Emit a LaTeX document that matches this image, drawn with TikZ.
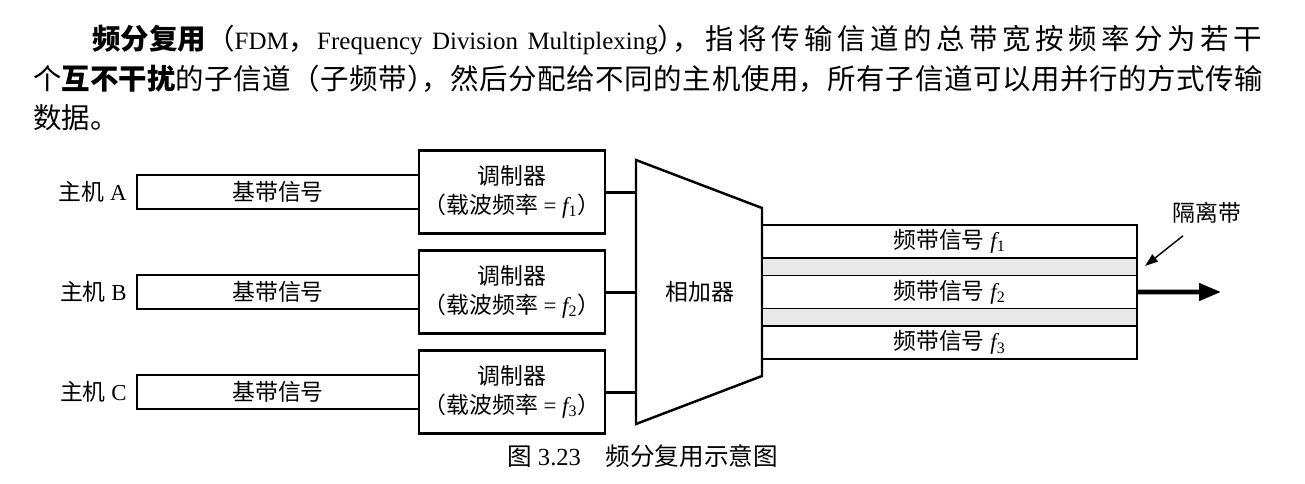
\documentclass[tikz,border=0pt]{standalone}
\usepackage{fontspec}
\setmainfont{Liberation Serif}
\newfontfamily\zhfont{Noto Sans CJK SC}
\usetikzlibrary{
    arrows.meta,
    positioning
}

\definecolor{gapgray}{HTML}{E8E8E8}

\newcommand{\hanzi}[1]{{\zhfont #1}}
\newcommand{\hanzib}[1]{{\zhfont\bfseries #1}}
\newcommand{\bodysize}{\fontsize{16.2pt}{20pt}\selectfont}
\newcommand{\latinsize}{\fontsize{14.2pt}{20pt}\selectfont}
\newcommand{\figsize}{\fontsize{13pt}{16.5pt}\selectfont}
\newcommand{\capsize}{\fontsize{14pt}{17pt}\selectfont}
\newcommand{\freq}[1]{{\itshape f}\textsubscript{#1}}
\newcommand{\fullline}{\XeTeXlinebreaklocale "en"\relax\parfillskip=0pt\noindent}
\newcommand{\spreadon}{\XeTeXlinebreaklocale "zh"\relax\XeTeXlinebreakskip=0pt plus 1fil\relax}

\tikzset{
    textline/.style={anchor=west, inner sep=0pt, font=\bodysize},
    bbbox/.style={draw, line width=1.4pt, minimum width=5.64cm, minimum height=0.68cm,
        inner sep=0pt, outer sep=0pt, font=\figsize},
    modbox/.style={draw, line width=1.4pt, minimum width=3.72cm, minimum height=1.66cm,
        inner sep=0pt, outer sep=0pt, align=center, font=\figsize},
    band/.style={draw, line width=1.1pt, minimum width=7.5cm, minimum height=0.66cm,
        inner sep=0pt, outer sep=0pt, font=\figsize},
    gapband/.style={band, fill=gapgray, minimum height=0.35cm},
    link/.style={line width=1.7pt}
}

\begin{document}
\begin{tikzpicture}[scale=1]

\useasboundingbox (0,0) rectangle (26.1,-9.66);

% Paragraph above the figure
\node[textline, text width=23.4cm] (line1) at (1.84,-0.8) {\fullline\hanzib{频分复用}\hanzi{（}{\latinsize FDM}\hanzi{，}{\latinsize Frequency Division Multiplexing}\hanzi{）}\kern-0.5em\hanzi{，}\spreadon\hanzi{指将传输信道的总带宽按频率分为若干}\par};
\node[textline, text width=24.6cm] (line2) at (0.66,-1.58) {\fullline\hanzi{个}\hanzib{互不干扰}\spreadon\hanzi{的子信道（子频带）}\kern-0.5em\hanzi{，然后分配给不同的主机使用，所有子信道可以用并行的方式传输}\par};
\node[textline] (line3) at (0.66,-2.36) {\hanzi{数据。}};

% Modulators
\node[modbox] (modA) at (10.24,-3.84) {\hanzi{调制器}\\\hanzi{（载波频率} = \freq{1}\hanzi{）}};
\node[modbox, below=0.34cm of modA] (modB) {\hanzi{调制器}\\\hanzi{（载波频率} = \freq{2}\hanzi{）}};
\node[modbox, below=0.34cm of modB] (modC) {\hanzi{调制器}\\\hanzi{（载波频率} = \freq{3}\hanzi{）}};

% Baseband signals
\node[bbbox, left=0pt of modA] (bbA) {\hanzi{基带信号}};
\node[bbbox, left=0pt of modB] (bbB) {\hanzi{基带信号}};
\node[bbbox, left=0pt of modC] (bbC) {\hanzi{基带信号}};

% Hosts
\node[left=0.2cm of bbA, inner sep=0pt, font=\figsize] (hostA) {\hanzi{主机} A};
\node[left=0.2cm of bbB, inner sep=0pt, font=\figsize] (hostB) {\hanzi{主机} B};
\node[left=0.2cm of bbC, inner sep=0pt, font=\figsize] (hostC) {\hanzi{主机} C};

% Adder
\draw[line width=1.4pt] (12.72,-3.2) -- (15.24,-4.16) -- (15.24,-7.52) -- (12.72,-8.48) -- cycle;
\coordinate (sumW) at (12.72,-5.84);
\node[font=\figsize] (sum) at (14.0,-5.84) {\hanzi{相加器}};

\draw[link] (modA.east) -- (modA.east -| sumW);
\draw[link] (modB.east) -- (modB.east -| sumW);
\draw[link] (modC.east) -- (modC.east -| sumW);

% Frequency bands
\node[band, anchor=north west] (f1) at (15.24,-4.5) {\hanzi{频带信号} \freq{1}};
\node[gapband, below=0pt of f1] (g1) {};
\node[band, below=0pt of g1] (f2) {\hanzi{频带信号} \freq{2}};
\node[gapband, below=0pt of f2] (g2) {};
\node[band, below=0pt of g2] (f3) {\hanzi{频带信号} \freq{3}};

% Output
\coordinate (out) at (24.42,-5.84);
\draw[line width=2.6pt, -{Triangle[length=0.44cm,width=0.34cm]}] (f2.east) -- (out);

% Guard band
\node[font=\figsize] (gapLbl) at (24.14,-4.26) {\hanzi{隔离带}};
\coordinate (gapTip) at (22.9,-5.32);
\draw[line width=0.8pt, -{Triangle[length=0.26cm,width=0.18cm]}] ([shift={(-0.48,-0.12)}]gapLbl.south) -- (gapTip);

% Caption
\node[font=\capsize] (cap) at (12.85,-9.12) {\hanzi{图} 3.23\quad\hanzi{频分复用示意图}};

\end{tikzpicture}
\end{document}
